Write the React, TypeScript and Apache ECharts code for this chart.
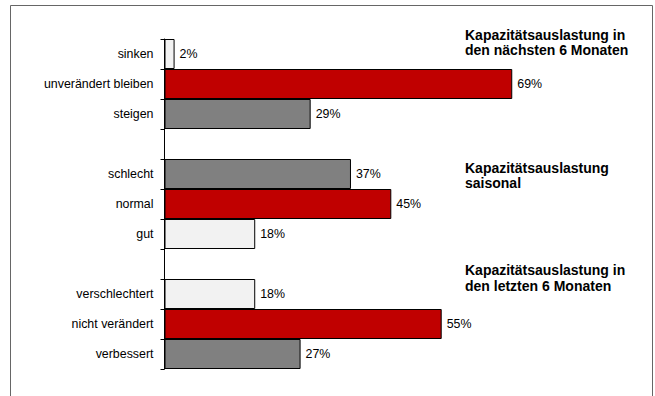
import React, { useEffect, useRef } from "react";
import * as echarts from "echarts";

const categories = [
  "sinken",
  "unverändert bleiben",
  "steigen",
  "",
  "schlecht",
  "normal",
  "gut",
  " ",
  "verschlechtert",
  "nicht verändert",
  "verbessert",
];
const values: (number | string)[] = [2, 69, 29, "-", 37, 45, 18, "-", 18, 55, 27];
const barColors = [
  "#F2F2F2",
  "#C00000",
  "#808080",
  "#FFFFFF",
  "#808080",
  "#C00000",
  "#F2F2F2",
  "#FFFFFF",
  "#F2F2F2",
  "#C00000",
  "#808080",
];
const groupTitles = [
  "Kapazitätsauslastung in\nden nächsten 6 Monaten",
  "Kapazitätsauslastung\nsaisonal",
  "Kapazitätsauslastung in\nden letzten 6 Monaten",
];
const titleTops = [27.2, 160, 262.5];

const FONT = "Liberation Sans, Arial, sans-serif";

export default function App() {
  const ref = useRef<HTMLDivElement>(null);
  useEffect(() => {
    if (!ref.current) return;
    const chart = echarts.init(ref.current, null, { renderer: "svg" });
    chart.setOption({
      animation: false,
      backgroundColor: "#ffffff",
      grid: { left: 164.5, top: 39, height: 330, width: 403.2 },
      xAxis: { type: "value", min: 0, max: 80, show: false },
      yAxis: {
        type: "category",
        inverse: true,
        data: categories,
        axisLine: { show: true, lineStyle: { color: "#000", width: 1 } },
        axisTick: { show: true, length: 4, lineStyle: { color: "#000" } },
        axisLabel: { margin: 11, fontSize: 12.4, color: "#000", fontFamily: FONT },
        splitLine: { show: false },
      },
      series: [
        {
          type: "bar",
          barCategoryGap: 0,
          data: values.map((v, i) => ({
            value: v,
            itemStyle: { color: barColors[i], borderColor: "#000", borderWidth: 1 },
          })),
          label: {
            show: true,
            position: "right",
            distance: 5,
            formatter: "{c}%",
            fontSize: 12.4,
            color: "#000",
            fontFamily: FONT,
          },
        },
      ],
      graphic: [
        {
          type: "rect",
          silent: true,
          shape: { x: 10.5, y: 5.5, width: 642, height: 420 },
          style: { fill: "none", stroke: "#666", lineWidth: 1 },
        },
        ...groupTitles.map((t, i) => ({
          type: "text",
          silent: true,
          x: 465,
          y: titleTops[i],
          style: {
            text: t,
            font: `bold 14px ${FONT}`,
            fill: "#000",
            lineHeight: 15.5,
            verticalAlign: "top",
          },
        })),
      ],
    });
    return () => chart.dispose();
  }, []);
  return (
    <div
      ref={ref}
      style={{ position: "absolute", left: 0, top: 0, width: 655, height: 396 }}
    />
  );
}
